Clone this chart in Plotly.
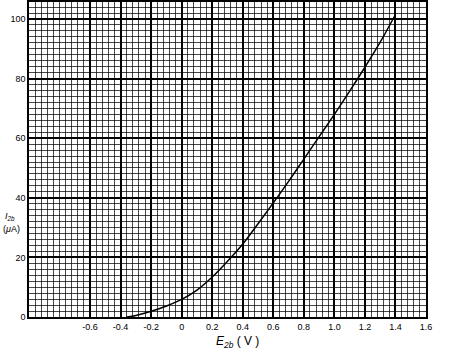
import plotly.graph_objects as go

# Data
e2b = [-0.36, -0.3, -0.2, -0.1, 0.0, 0.1, 0.2, 0.3, 0.4, 0.5, 0.6, 0.7, 0.8, 0.9, 1.0, 1.1, 1.2, 1.3, 1.4]
i2b = [0.0, 0.5, 1.9, 3.7, 5.9, 9.0, 13.4, 18.7, 24.5, 31.3, 38.3, 45.5, 53.0, 60.5, 68.0, 75.8, 83.8, 92.2, 101.5]

x_ticks = [-0.6, -0.4, -0.2, 0, 0.2, 0.4, 0.6, 0.8, 1.0, 1.2, 1.4, 1.6]
x_ticktext = ["-0.6", "-0.4", "-0.2", "0", "0.2", "0.4", "0.6", "0.8", "1.0", "1.2", "1.4", "1.6"]
y_ticks = [0, 20, 40, 60, 80, 100]

fig = go.Figure()
fig.add_trace(go.Scatter(x=e2b, y=i2b, mode="lines", line=dict(color="black", width=1.5, shape="spline"),
                         showlegend=False, hoverinfo="skip"))

font = dict(family="Liberation Sans, Arial, sans-serif", size=9, color="black")

fig.update_layout(
    width=463, height=352,
    margin=dict(l=29, r=37, t=0, b=35),
    paper_bgcolor="white", plot_bgcolor="white",
    font=font,
    xaxis=dict(range=[-1.0, 1.6], tickvals=x_ticks, ticktext=x_ticktext,
               showgrid=True, gridcolor="black", gridwidth=1.5,
               minor=dict(tick0=0, dtick=0.04, showgrid=True, gridcolor="rgba(0,0,0,0.72)", gridwidth=1),
               showline=True, linecolor="black", linewidth=1.5, mirror=True,
               ticks="", zeroline=False, tickfont=font),
    yaxis=dict(range=[0, 105.7], tickvals=y_ticks,
               showgrid=True, gridcolor="black", gridwidth=1.5,
               minor=dict(tick0=0, dtick=2, showgrid=True, gridcolor="rgba(0,0,0,0.72)", gridwidth=1),
               showline=True, linecolor="black", linewidth=1.5, mirror=True,
               ticks="", zeroline=False, tickfont=font),
)

lab_font = dict(family="Liberation Sans, Arial, sans-serif", size=9, color="black")
fig.add_annotation(xref="paper", yref="paper", x=-0.048, y=0.319, xanchor="center", yanchor="middle",
                   text="<i>I</i><sub><i>2b</i></sub>", showarrow=False, font=lab_font)
fig.add_annotation(xref="paper", yref="paper", x=-0.043, y=0.279, xanchor="center", yanchor="middle",
                   text="(<i>μ</i>A)", showarrow=False, font=lab_font)
fig.add_annotation(xref="paper", yref="paper", x=0.526, y=-0.079, xanchor="center", yanchor="middle",
                   text="<i>E</i><sub><i>2b</i></sub> ( V )", showarrow=False,
                   font=dict(family="Liberation Sans, Arial, sans-serif", size=12, color="black"))

fig.write_html("out.html")
